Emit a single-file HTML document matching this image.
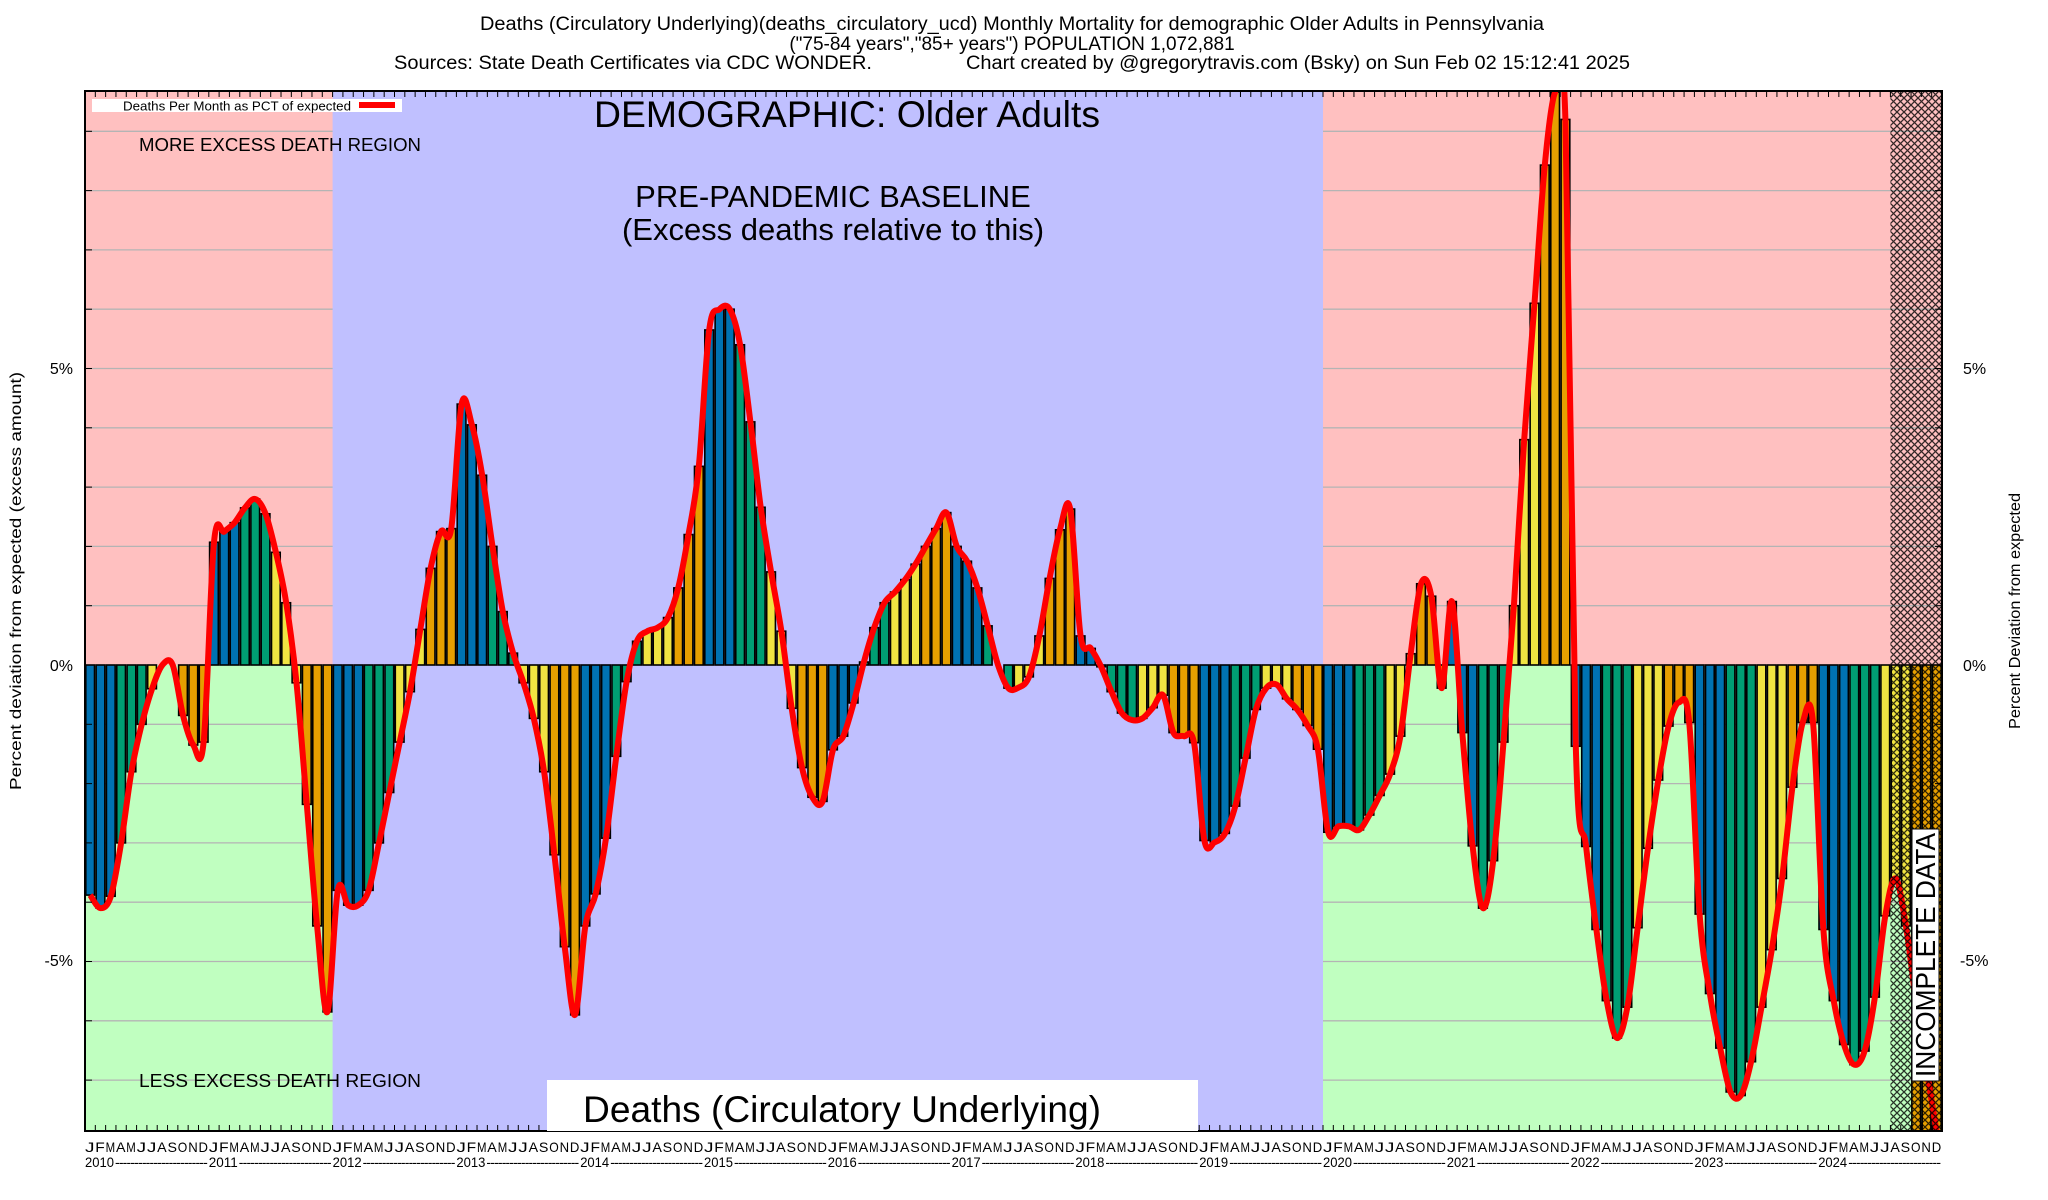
<!DOCTYPE html>
<html><head><meta charset="utf-8">
<style>
html,body{margin:0;padding:0;background:#fff;}
svg{display:block;font-family:"Liberation Sans",Arial,sans-serif;}
</style></head>
<body>
<svg id="s" width="2048" height="1200" viewBox="0 0 2048 1200" xmlns="http://www.w3.org/2000/svg">
<defs>
<pattern id="hatch" width="7" height="7" patternUnits="userSpaceOnUse">
<path d="M0,0 L7,7 M7,0 L0,7" stroke="#000" stroke-width="1.3" opacity="0.8"/>
</pattern>
<clipPath id="pc"><rect x="85" y="91" width="1857" height="1040"/></clipPath>
</defs>
<g id="g"></g>
</svg>
<script>
(function(){
var L=85,R=1942,T=91,B=1131,Z=665,U=59.3,MW=(R-L)/180;
var d=[
-3.88,-4.1,-3.9,-3.0,-1.8,-1.0,-0.4,0,0,-0.85,-1.35,-1.3,
2.07,2.25,2.4,2.65,2.8,2.55,1.9,1.05,-0.3,-2.35,-4.4,-5.85,
-3.8,-4.05,-4.05,-3.8,-3.0,-2.15,-1.3,-0.45,0.6,1.63,2.25,2.3,
4.4,4.05,3.2,2.0,0.9,0.2,-0.3,-0.9,-1.8,-3.2,-4.75,-5.9,
-4.4,-3.86,-2.92,-1.54,-0.28,0.4,0.57,0.63,0.8,1.3,2.2,3.35,
5.65,6.0,6.0,5.4,4.1,2.66,1.57,0.57,-0.73,-1.73,-2.23,-2.3,
-1.43,-1.2,-0.64,0.05,0.63,1.05,1.23,1.44,1.7,2.0,2.3,2.57,
2.0,1.75,1.3,0.66,0.0,-0.39,-0.38,-0.2,0.49,1.46,2.28,2.63,
0.49,0.28,-0.03,-0.45,-0.81,-0.93,-0.9,-0.72,-0.51,-1.14,-1.2,-1.31,
-2.96,-2.99,-2.84,-2.38,-1.57,-0.75,-0.39,-0.33,-0.57,-0.75,-1.02,-1.42,
-2.82,-2.72,-2.72,-2.78,-2.53,-2.2,-1.84,-1.2,0.19,1.37,1.16,-0.39,
1.07,-1.14,-3.05,-4.1,-3.3,-1.3,1.0,3.8,6.1,8.43,9.66,9.2,
-1.37,-3.06,-4.46,-5.66,-6.29,-5.77,-4.43,-3.09,-1.94,-1.03,-0.63,-0.97,
-4.2,-5.54,-6.46,-7.2,-7.26,-6.69,-5.77,-4.8,-3.6,-2.06,-0.97,-0.97,
-4.46,-5.66,-6.4,-6.74,-6.51,-5.6,-4.23,-3.6,-4.4,-5.7,-6.8,-7.9];
var bars=d.slice();bars[177]=-9;bars[178]=-9;bars[179]=-9;
var cols=["#0072b2","#009e73","#f0e442","#e69f00"];
var h=[];
function y(v){return Z-v*U;}
h.push('<rect x="'+L+'" y="'+T+'" width="'+(R-L)+'" height="'+(Z-T)+'" fill="#ffc0c0"/>');
h.push('<rect x="'+L+'" y="'+Z+'" width="'+(R-L)+'" height="'+(B-Z)+'" fill="#c0ffc0"/>');
for(var k=-7;k<=9;k++){if(k==0)continue;var yy=y(k);h.push('<line x1="'+L+'" x2="'+R+'" y1="'+yy+'" y2="'+yy+'" stroke="#b4b4b4" stroke-width="1.3"/>');}
var x12=L+24*MW,x20=L+120*MW;
h.push('<rect x="'+x12+'" y="'+T+'" width="'+(x20-x12)+'" height="'+(B-T)+'" fill="#c0c0ff"/>');
h.push('<g clip-path="url(#pc)">');
for(var i=0;i<180;i++){var v=bars[i];var x=L+i*MW;var y0=Math.min(y(v),Z),hh=Math.abs(v*U);
h.push('<rect x="'+(x+0.8).toFixed(2)+'" y="'+y0.toFixed(2)+'" width="'+(MW-1.6).toFixed(2)+'" height="'+hh.toFixed(2)+'" fill="'+cols[Math.floor((i%12)/3)]+'" stroke="#000" stroke-width="1.6"/>');}
var p=[];for(var i=0;i<180;i++)p.push([L+(i+0.5)*MW,y(d[i])]);
var s='M'+p[0][0].toFixed(1)+','+p[0][1].toFixed(1);
for(var i=0;i<p.length-1;i++){var p0=p[Math.max(0,i-1)],p1=p[i],p2=p[i+1],p3=p[Math.min(p.length-1,i+2)];
var c1x=p1[0]+(p2[0]-p0[0])/6,c1y=p1[1]+(p2[1]-p0[1])/6,c2x=p2[0]-(p3[0]-p1[0])/6,c2y=p2[1]-(p3[1]-p1[1])/6;
s+=' C'+c1x.toFixed(1)+','+c1y.toFixed(1)+' '+c2x.toFixed(1)+','+c2y.toFixed(1)+' '+p2[0].toFixed(1)+','+p2[1].toFixed(1);}
s+=' L'+R+','+(B+10);
h.push('<path d="'+s+'" fill="none" stroke="#ff0000" stroke-width="6" stroke-linejoin="round"/>');
h.push('</g>');
var xh=L+175*MW;
h.push('<rect x="'+xh+'" y="'+T+'" width="'+(R-xh)+'" height="'+(B-T)+'" fill="url(#hatch)"/>');
for(var i=0;i<=180;i++){var x=L+i*MW;h.push('<line x1="'+x+'" x2="'+x+'" y1="'+T+'" y2="'+(T+6)+'" stroke="#000" stroke-width="1"/><line x1="'+x+'" x2="'+x+'" y1="'+B+'" y2="'+(B-6)+'" stroke="#000" stroke-width="1"/>');}
for(var k=-7;k<=9;k++){var yy=y(k);h.push('<line x1="'+L+'" x2="'+(L+7)+'" y1="'+yy+'" y2="'+yy+'" stroke="#000"/><line x1="'+R+'" x2="'+(R-7)+'" y1="'+yy+'" y2="'+yy+'" stroke="#000"/>');}
h.push('<rect x="'+L+'" y="'+T+'" width="'+(R-L)+'" height="'+(B-T)+'" fill="none" stroke="#000" stroke-width="2"/>');
var ml="JFMAMJJASOND";
for(var i=0;i<180;i++){var x=L+i*MW;h.push('<text x="'+x.toFixed(1)+'" y="1152" font-size="14" textLength="9.5" lengthAdjust="spacingAndGlyphs">'+ml[i%12]+'</text>');}
for(var yr=0;yr<15;yr++){var x=L+yr*12*MW;h.push('<text x="'+x.toFixed(1)+'" y="1167" font-size="14" textLength="29" lengthAdjust="spacingAndGlyphs">'+(2010+yr)+'</text>');
h.push('<text x="'+(x+30).toFixed(1)+'" y="1167" font-size="14" textLength="'+(12*MW-31).toFixed(1)+'" lengthAdjust="spacing">'+ '-'.repeat(24)+'</text>');}
document.getElementById('g').innerHTML=h.join('');
})();
</script>
<div style="position:absolute;left:0;top:0;width:2048px;height:1200px;pointer-events:none;">
<svg width="2048" height="1200" xmlns="http://www.w3.org/2000/svg" style="font-family:'Liberation Sans',Arial,sans-serif;">
<text x="1012" y="30" font-size="19" text-anchor="middle" textLength="1064" lengthAdjust="spacingAndGlyphs">Deaths (Circulatory Underlying)(deaths_circulatory_ucd) Monthly Mortality for demographic Older Adults in Pennsylvania</text>
<text x="1012" y="50" font-size="19" text-anchor="middle">("75-84 years","85+ years") POPULATION 1,072,881</text>
<text x="394" y="69" font-size="19" textLength="478" lengthAdjust="spacingAndGlyphs">Sources: State Death Certificates via CDC WONDER.</text>
<text x="966" y="69" font-size="19" textLength="664" lengthAdjust="spacingAndGlyphs">Chart created by @gregorytravis.com (Bsky) on Sun Feb 02 15:12:41 2025</text>
<rect x="92" y="99" width="310" height="13" fill="#fff"/>
<text x="123" y="110.5" font-size="13" textLength="228" lengthAdjust="spacingAndGlyphs">Deaths Per Month as PCT of expected</text>
<rect x="359" y="102" width="36" height="6" fill="#ff0000"/>
<text x="594" y="127" font-size="37" textLength="506" lengthAdjust="spacingAndGlyphs">DEMOGRAPHIC: Older Adults</text>
<text x="139" y="151" font-size="18.5" textLength="282" lengthAdjust="spacingAndGlyphs">MORE EXCESS DEATH REGION</text>
<text x="833" y="207" font-size="31" text-anchor="middle">PRE-PANDEMIC BASELINE</text>
<text x="833" y="240" font-size="31" text-anchor="middle">(Excess deaths relative to this)</text>
<text x="139" y="1087" font-size="18.5" textLength="282" lengthAdjust="spacingAndGlyphs">LESS EXCESS DEATH REGION</text>
<rect x="547" y="1080" width="651" height="51" fill="#fff"/>
<text x="583" y="1122" font-size="37" textLength="518" lengthAdjust="spacingAndGlyphs">Deaths (Circulatory Underlying)</text>
<rect x="1912" y="829" width="27" height="252" fill="#fff" stroke="#000" stroke-width="1"/>
<text transform="translate(1935,1077) rotate(-90)" font-size="28" textLength="244" lengthAdjust="spacingAndGlyphs">INCOMPLETE DATA</text>
<text x="73" y="374" font-size="16" text-anchor="end">5%</text>
<text x="73" y="671" font-size="16" text-anchor="end">0%</text>
<text x="73" y="966" font-size="16" text-anchor="end">-5%</text>
<text x="1963" y="374" font-size="16">5%</text>
<text x="1963" y="671" font-size="16">0%</text>
<text x="1960" y="966" font-size="16">-5%</text>
<text transform="translate(21,581) rotate(-90)" font-size="16" text-anchor="middle" textLength="418" lengthAdjust="spacingAndGlyphs">Percent deviation from expected (excess amount)</text>
<text transform="translate(2020,611) rotate(-90)" font-size="16" text-anchor="middle" textLength="236" lengthAdjust="spacingAndGlyphs">Percent Deviation from expected</text>
</svg>
</div>
</body></html>
